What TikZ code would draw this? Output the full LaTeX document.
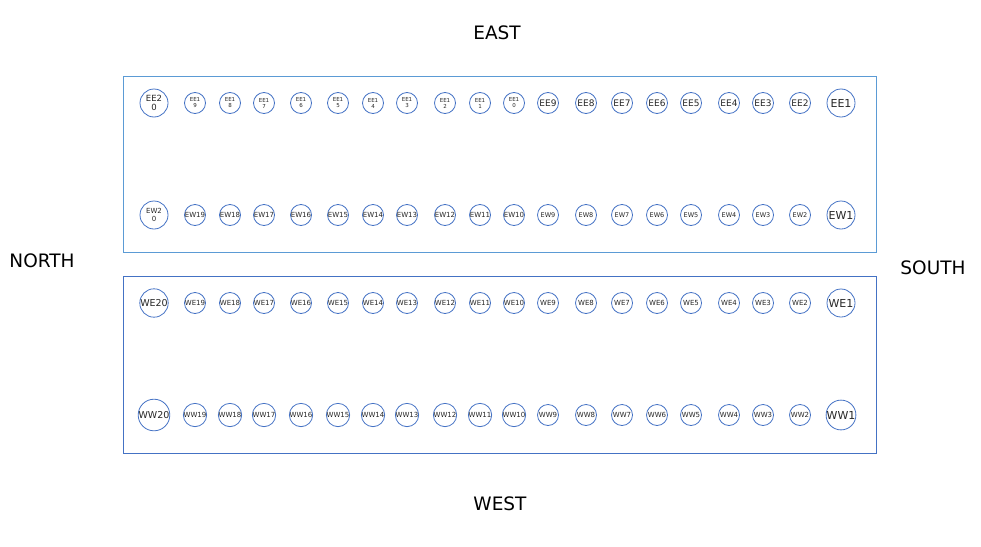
\documentclass[tikz,border=0pt]{standalone}
\usepackage{fontspec}
\setmainfont{DejaVu Sans}
\usepackage{xcolor}
\definecolor{holeblue}{HTML}{4472C4}
\definecolor{railblue}{HTML}{5B9BD5}
\definecolor{darkgray}{HTML}{262626}

\newcommand{\fs}[1]{\fontsize{#1}{#1}\selectfont}

\begin{document}
\begin{tikzpicture}[x=1pt,y=-1pt,
  hole/.style={circle,draw=holeblue,line width=0.8pt,minimum size=21pt,inner sep=0pt,
    text=darkgray,align=center,font=\fs{7}},
  bighole/.style={hole,minimum size=28pt,font=\fs{11}},
  tiny/.style={font=\fontsize{5.5}{6}\selectfont},
  dir/.style={font=\fs{18.5},text=black}]
  \useasboundingbox (0,0) rectangle (981,546);

  % rails
  \draw[railblue,line width=0.8pt] (123,76) rectangle (876,252);
  \draw[holeblue,line width=0.8pt] (123,276) rectangle (876,453);

  % directions
  \node[dir] (east) at (497,33) {EAST};
  \node[dir] (west) at (500,504) {WEST};
  \node[dir] (north) at (42,261) {NORTH};
  \node[dir] (south) at (933,268) {SOUTH};

  % top rail, row EE
  \node[bighole] (ee1) at (841,103) {EE1};
  \foreach \i/\x in {2/800,3/763,4/729,5/691,6/657,7/622,8/586,9/548}
    \node[hole,font=\fs{9}] (ee\i) at (\x,103) {EE\i};
  \foreach \i/\x in {10/514,11/480,12/445,13/407,14/373,15/338,16/301,17/264,18/230,19/195} {
    \pgfmathtruncatemacro\d{\i-10}
    \node[hole,tiny] (ee\i) at (\x,103) {EE1\\\d};
  }
  \node[bighole,font=\fontsize{8.5}{9.5}\selectfont] (ee20) at (154,103) {EE2\\0};

  % top rail, row EW
  \node[bighole] (ew1) at (841,215) {EW1};
  \foreach \i/\x in {2/800,3/763,4/729,5/691,6/657,7/622,8/586,9/548}
    \node[hole,font=\fs{6.5}] (ew\i) at (\x,215) {EW\i};
  \foreach \i/\x in {10/514,11/480,12/445,13/407,14/373,15/338,16/301,17/264,18/230,19/195}
    \node[hole] (ew\i) at (\x,215) {EW\i};
  \node[bighole,font=\fontsize{7}{8.5}\selectfont] (ew20) at (154,215) {EW2\\0};

  % bottom rail, row WE
  \node[bighole] (we1) at (841,303) {WE1};
  \foreach \i/\x in {2/800,3/763,4/729,5/691,6/657,7/622,8/586,9/548,10/514,11/480,12/445,13/407,14/373,15/338,16/301,17/264,18/230,19/195}
    \node[hole] (we\i) at (\x,303) {WE\i};
  \node[bighole,font=\fs{9.5}] (we20) at (154,303) {WE20};

  % bottom rail, row WW
  \node[bighole] (ww1) at (841,415) {WW1};
  \foreach \i/\x in {2/800,3/763,4/729,5/691,6/657,7/622,8/586,9/548,10/514,11/480,12/445,13/407,14/373,15/338,16/301,17/264,18/230,19/195}
    \node[hole] (ww\i) at (\x,415) {WW\i};
  \node[bighole,font=\fs{9.5}] (ww20) at (154,415) {WW20};
\end{tikzpicture}
\end{document}
